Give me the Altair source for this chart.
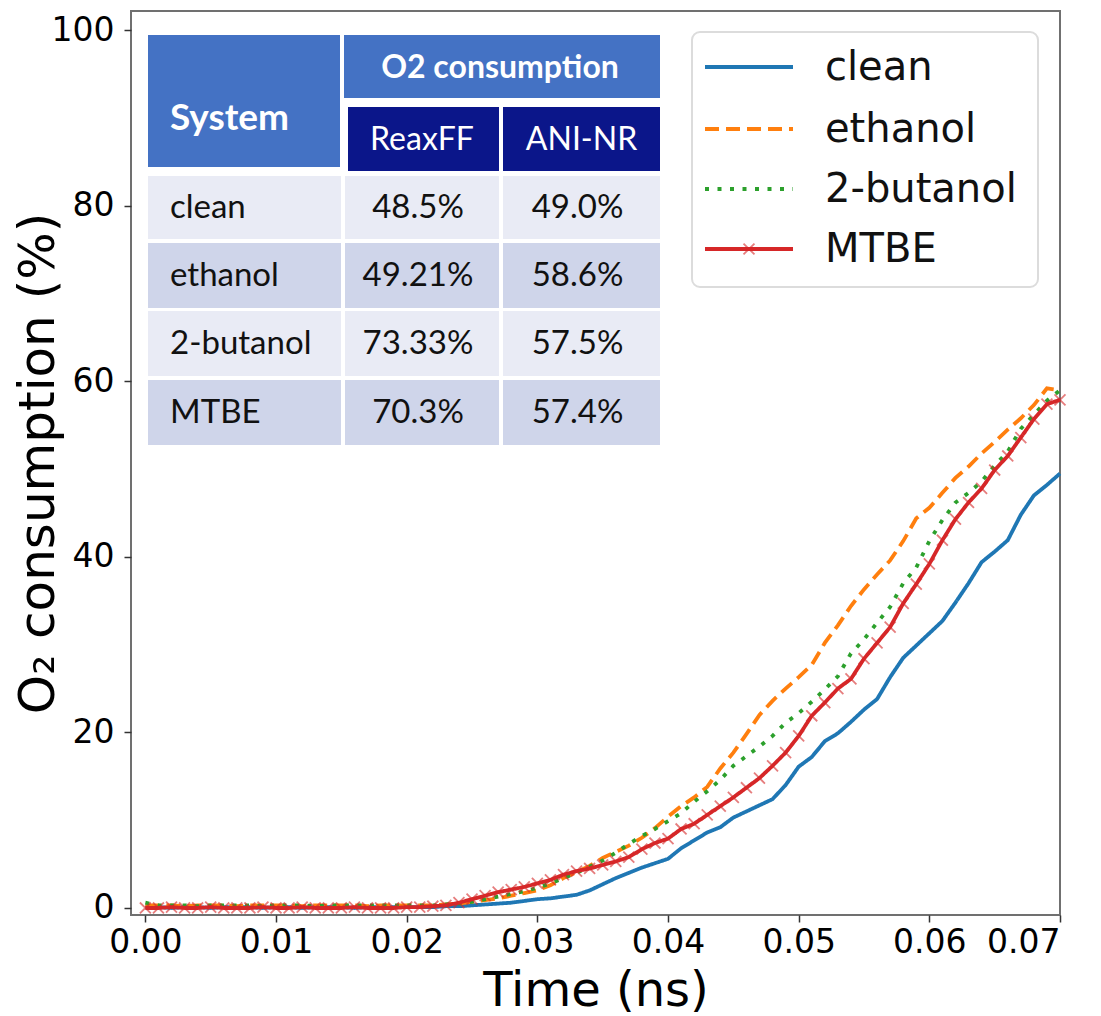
import altair as alt
import pandas as pd

# ---- series: O2 consumption (%) vs time (ns), sampled every 0.001 ns ----
time_ns = [round(i * 0.001, 3) for i in range(71)]

clean = [0.1, 0.1, 0.0, 0.1, 0.1, 0.0, 0.1, 0.1, 0.1, 0.0, 0.1,
         0.1, 0.0, 0.1, 0.1, 0.1, 0.0, 0.1, 0.1, 0.1, 0.1,
         0.1, 0.1, 0.2, 0.2, 0.3, 0.4, 0.5, 0.6, 0.8, 1.0,
         1.1, 1.3, 1.5, 2.0, 2.7, 3.4, 4.0, 4.6, 5.1, 5.6,
         6.8, 7.7, 8.6, 9.2, 10.3, 11.0, 11.7, 12.4, 14.0, 16.1,
         17.2, 19.0, 19.9, 21.2, 22.6, 23.8, 26.3, 28.5, 29.9, 31.3,
         32.7, 34.8, 37.0, 39.4, 40.6, 41.9, 44.8, 47.0, 48.2, 49.5]

ethanol = [0.3, 0.3, 0.3, 0.2, 0.3, 0.3, 0.3, 0.2, 0.3, 0.3, 0.3,
           0.3, 0.2, 0.3, 0.3, 0.3, 0.3, 0.2, 0.3, 0.3, 0.3,
           0.3, 0.3, 0.4, 0.5, 0.7, 0.9, 1.1, 1.4, 1.7, 2.0,
           2.6, 3.4, 4.1, 4.8, 5.7, 6.4, 7.1, 8.0, 9.1, 10.4,
           11.6, 12.6, 13.8, 15.9, 17.7, 19.8, 22.0, 23.6, 25.0, 26.3,
           27.7, 30.2, 32.2, 34.4, 36.3, 38.0, 39.6, 41.8, 44.4, 45.6,
           47.3, 49.0, 50.3, 51.8, 53.1, 54.5, 55.8, 57.3, 59.2, 59.0]

butanol = [0.6, 0.3, 0.3, 0.3, 0.2, 0.3, 0.3, 0.3, 0.3, 0.2, 0.3,
           0.3, 0.3, 0.2, 0.3, 0.3, 0.3, 0.3, 0.3, 0.3, 0.3,
           0.3, 0.3, 0.4, 0.5, 0.7, 1.0, 1.3, 1.6, 1.9, 2.3,
           2.8, 3.4, 4.0, 4.7, 5.4, 6.3, 7.3, 8.2, 9.0, 9.9,
           10.8, 12.1, 13.3, 14.6, 16.2, 17.3, 18.4, 19.6, 21.1, 22.2,
           23.5, 24.9, 26.4, 29.0, 30.6, 32.5, 34.3, 37.0, 38.8, 41.8,
           44.2, 46.2, 47.3, 48.6, 50.4, 52.0, 54.6, 56.2, 57.8, 59.0]

mtbe = [0.0, 0.0, 0.1, 0.0, 0.0, 0.1, 0.0, 0.0, 0.0, 0.1, 0.0,
        0.0, 0.1, 0.0, 0.0, 0.0, 0.1, 0.0, 0.0, 0.0, 0.1,
        0.1, 0.2, 0.3, 0.6, 1.0, 1.4, 1.8, 2.1, 2.4, 2.8,
        3.2, 3.8, 4.2, 4.5, 4.9, 5.3, 5.8, 6.7, 7.4, 7.9,
        9.0, 9.6, 10.6, 11.6, 12.6, 13.7, 14.8, 16.2, 17.7, 19.6,
        21.9, 23.4, 25.0, 26.1, 28.4, 30.2, 32.0, 34.7, 36.9, 39.2,
        41.9, 44.3, 46.2, 47.8, 49.9, 51.5, 53.6, 55.7, 57.4, 57.9]

systems = ["clean", "ethanol", "2-butanol", "MTBE"]
series = [clean, ethanol, butanol, mtbe]

# ---- inset table ----
table_header = "System"
table_group = "O2 consumption"
table_methods = ["ReaxFF", "ANI-NR"]
reaxff_pct = ["48.5%", "49.21%", "73.33%", "70.3%"]
ani_nr_pct = ["49.0%", "58.6%", "57.5%", "57.4%"]

colors = ["#1f77b4", "#ff7f0e", "#2ca02c", "#d62728"]
dashes = [[1, 0], [14, 7], [4, 8.5], [1, 0]]
XMARK = "M-1,-1L1,1M-1,1L1,-1"
LINE_W = 3.8

W, H = 929, 904
PAD_L, PAD_T = 131, 11

rows = []
for name, vals in zip(systems, series):
    for t, v in zip(time_ns, vals):
        rows.append({"t": t, "v": v, "system": name})
df = pd.DataFrame(rows)

x_scale = alt.Scale(domain=[-0.0011, 0.07], nice=False, zero=False)
y_scale = alt.Scale(domain=[-0.8, 102.2], nice=False, zero=False)

x_enc = alt.X("t:Q", scale=x_scale,
              axis=alt.Axis(values=[0, 0.01, 0.02, 0.03, 0.04, 0.05, 0.06, 0.07],
                            format=".2f", title="Time (ns)", titleY=90,
                            titleBaseline="alphabetic", titleFontSize=48))
y_enc = alt.Y("v:Q", scale=y_scale,
              axis=alt.Axis(values=[0, 20, 40, 60, 80, 100], format="d",
                            title="O₂ consumption (%)", titleX=-68, titleY=H / 2,
                            titleAngle=-90, titleBaseline="bottom", titleAlign="center"))

lines = alt.Chart(df).mark_line(strokeWidth=LINE_W, strokeCap="butt").encode(
    x=x_enc,
    y=y_enc,
    color=alt.Color("system:N", scale=alt.Scale(domain=systems, range=colors), legend=None),
    strokeDash=alt.StrokeDash("system:N", scale=alt.Scale(domain=systems, range=dashes), legend=None),
)

markers = alt.Chart(df).transform_filter(alt.datum.system == "MTBE").mark_point(
    shape=XMARK, filled=False, size=120, strokeWidth=1.8,
    color="#d62728", opacity=0.6,
).encode(
    x=alt.X("t:Q", scale=x_scale),
    y=alt.Y("v:Q", scale=y_scale),
)

data_layers = alt.layer(lines, markers)


def px_chart(items):
    """Chart whose x/y fields are pixel positions inside the plot area."""
    d = pd.DataFrame(items)
    for k in ("x", "x1"):
        if k in d:
            d[k] = d[k] - PAD_L
    for k in ("y", "y1"):
        if k in d:
            d[k] = d[k] - PAD_T
    return alt.Chart(d)


PX = dict(scale=None, axis=None)

# ---- table cells ----
col_l = [148, 345, 503]
col_r = [341, 499, 660]
row_t = [176, 243, 311, 380]
row_b = [239, 308, 376, 445]
light, dark = "#E9EBF5", "#CFD5EA"

cells = [
    {"x": 148, "x1": 340, "y": 35, "y1": 167, "fill": "#4472C4"},
    {"x": 344, "x1": 660, "y": 35, "y1": 98, "fill": "#4472C4"},
    {"x": 348, "x1": 499, "y": 107, "y1": 171, "fill": "#0B168A"},
    {"x": 503, "x1": 660, "y": 107, "y1": 171, "fill": "#0B168A"},
]
for i in range(len(systems)):
    for c in range(3):
        cells.append({"x": col_l[c], "x1": col_r[c], "y": row_t[i], "y1": row_b[i],
                      "fill": light if i % 2 == 0 else dark})

rects = px_chart(cells).mark_rect().encode(
    x=alt.X("x:Q", **PX), x2="x1:Q",
    y=alt.Y("y:Q", **PX), y2="y1:Q",
    fill=alt.Fill("fill:N", scale=None),
)


def text_layer(items, font="Lato", **kw):
    return px_chart(items).mark_text(font=font, baseline="middle", **kw).encode(
        x=alt.X("x:Q", **PX), y=alt.Y("y:Q", **PX), text="label:N")


head_bold = text_layer([{"x": 170, "y": 119, "label": table_header}],
                       align="left", fontSize=37, fontWeight="bold", color="white")
group_bold = text_layer([{"x": 500, "y": 68, "label": table_group}],
                        align="center", fontSize=32, fontWeight="bold", color="white")
methods = text_layer([{"x": (col_l[1] + col_r[1]) / 2, "y": 140, "label": table_methods[0]},
                      {"x": (col_l[2] + col_r[2]) / 2, "y": 140, "label": table_methods[1]}],
                     align="center", fontSize=32, color="white")
names = text_layer([{"x": 170, "y": (row_t[i] + row_b[i]) / 2, "label": s}
                    for i, s in enumerate(systems)],
                   align="left", fontSize=33, color="#111111")
values = text_layer(
    [{"x": (col_l[1] + col_r[1]) / 2 - 4, "y": (row_t[i] + row_b[i]) / 2, "label": v}
     for i, v in enumerate(reaxff_pct)]
    + [{"x": (col_l[2] + col_r[2]) / 2 - 4, "y": (row_t[i] + row_b[i]) / 2, "label": v}
       for i, v in enumerate(ani_nr_pct)],
    align="center", fontSize=33, color="#111111")

# ---- legend box ----
leg_rows = [67, 129, 189, 249]
leg_box = px_chart([{"x": 692, "x1": 1038, "y": 32, "y1": 287}]).mark_rect(
    fill="white", stroke="#dcdcdc", strokeWidth=2, cornerRadius=8
).encode(x=alt.X("x:Q", **PX), x2="x1:Q", y=alt.Y("y:Q", **PX), y2="y1:Q")

leg_layers = [leg_box]
for i, name in enumerate(systems):
    leg_layers.append(
        px_chart([{"x": 705, "x1": 793, "y": leg_rows[i]}]).mark_rule(
            color=colors[i], strokeWidth=LINE_W, strokeDash=dashes[i], strokeCap="butt"
        ).encode(x=alt.X("x:Q", **PX), x2="x1:Q", y=alt.Y("y:Q", **PX))
    )
leg_layers.append(
    px_chart([{"x": 749, "y": leg_rows[3]}]).mark_point(
        shape=XMARK, filled=False, size=120, strokeWidth=1.8, color="#d62728", opacity=0.6
    ).encode(x=alt.X("x:Q", **PX), y=alt.Y("y:Q", **PX))
)
leg_layers.append(
    text_layer([{"x": 825, "y": leg_rows[i] + 1, "label": s} for i, s in enumerate(systems)],
               font="DejaVu Sans", align="left", fontSize=40, color="#111111")
)

chart = alt.layer(
    data_layers, rects, head_bold, group_bold, methods, names, values, *leg_layers
).resolve_scale(
    x="independent", y="independent"
).properties(
    width=W, height=H,
    autosize=alt.AutoSizeParams(type="none"),
    padding={"left": PAD_L, "top": PAD_T, "right": 1101 - PAD_L - W, "bottom": 1016 - PAD_T - H},
).configure_view(
    stroke="#707070", strokeWidth=2
).configure_axis(
    grid=False, domain=False, ticks=True, tickSize=7, tickWidth=1.5, tickColor="#333333",
    labelFont="DejaVu Sans", labelFontSize=33, labelColor="#000000",
    titleFont="DejaVu Sans", titleFontSize=50, titleFontWeight="normal", titleColor="#000000",
).configure_axisX(
    labelPadding=4
).configure_axisY(
    labelPadding=10
)

chart.save("out.html", embed_options={"renderer": "svg", "actions": False})
